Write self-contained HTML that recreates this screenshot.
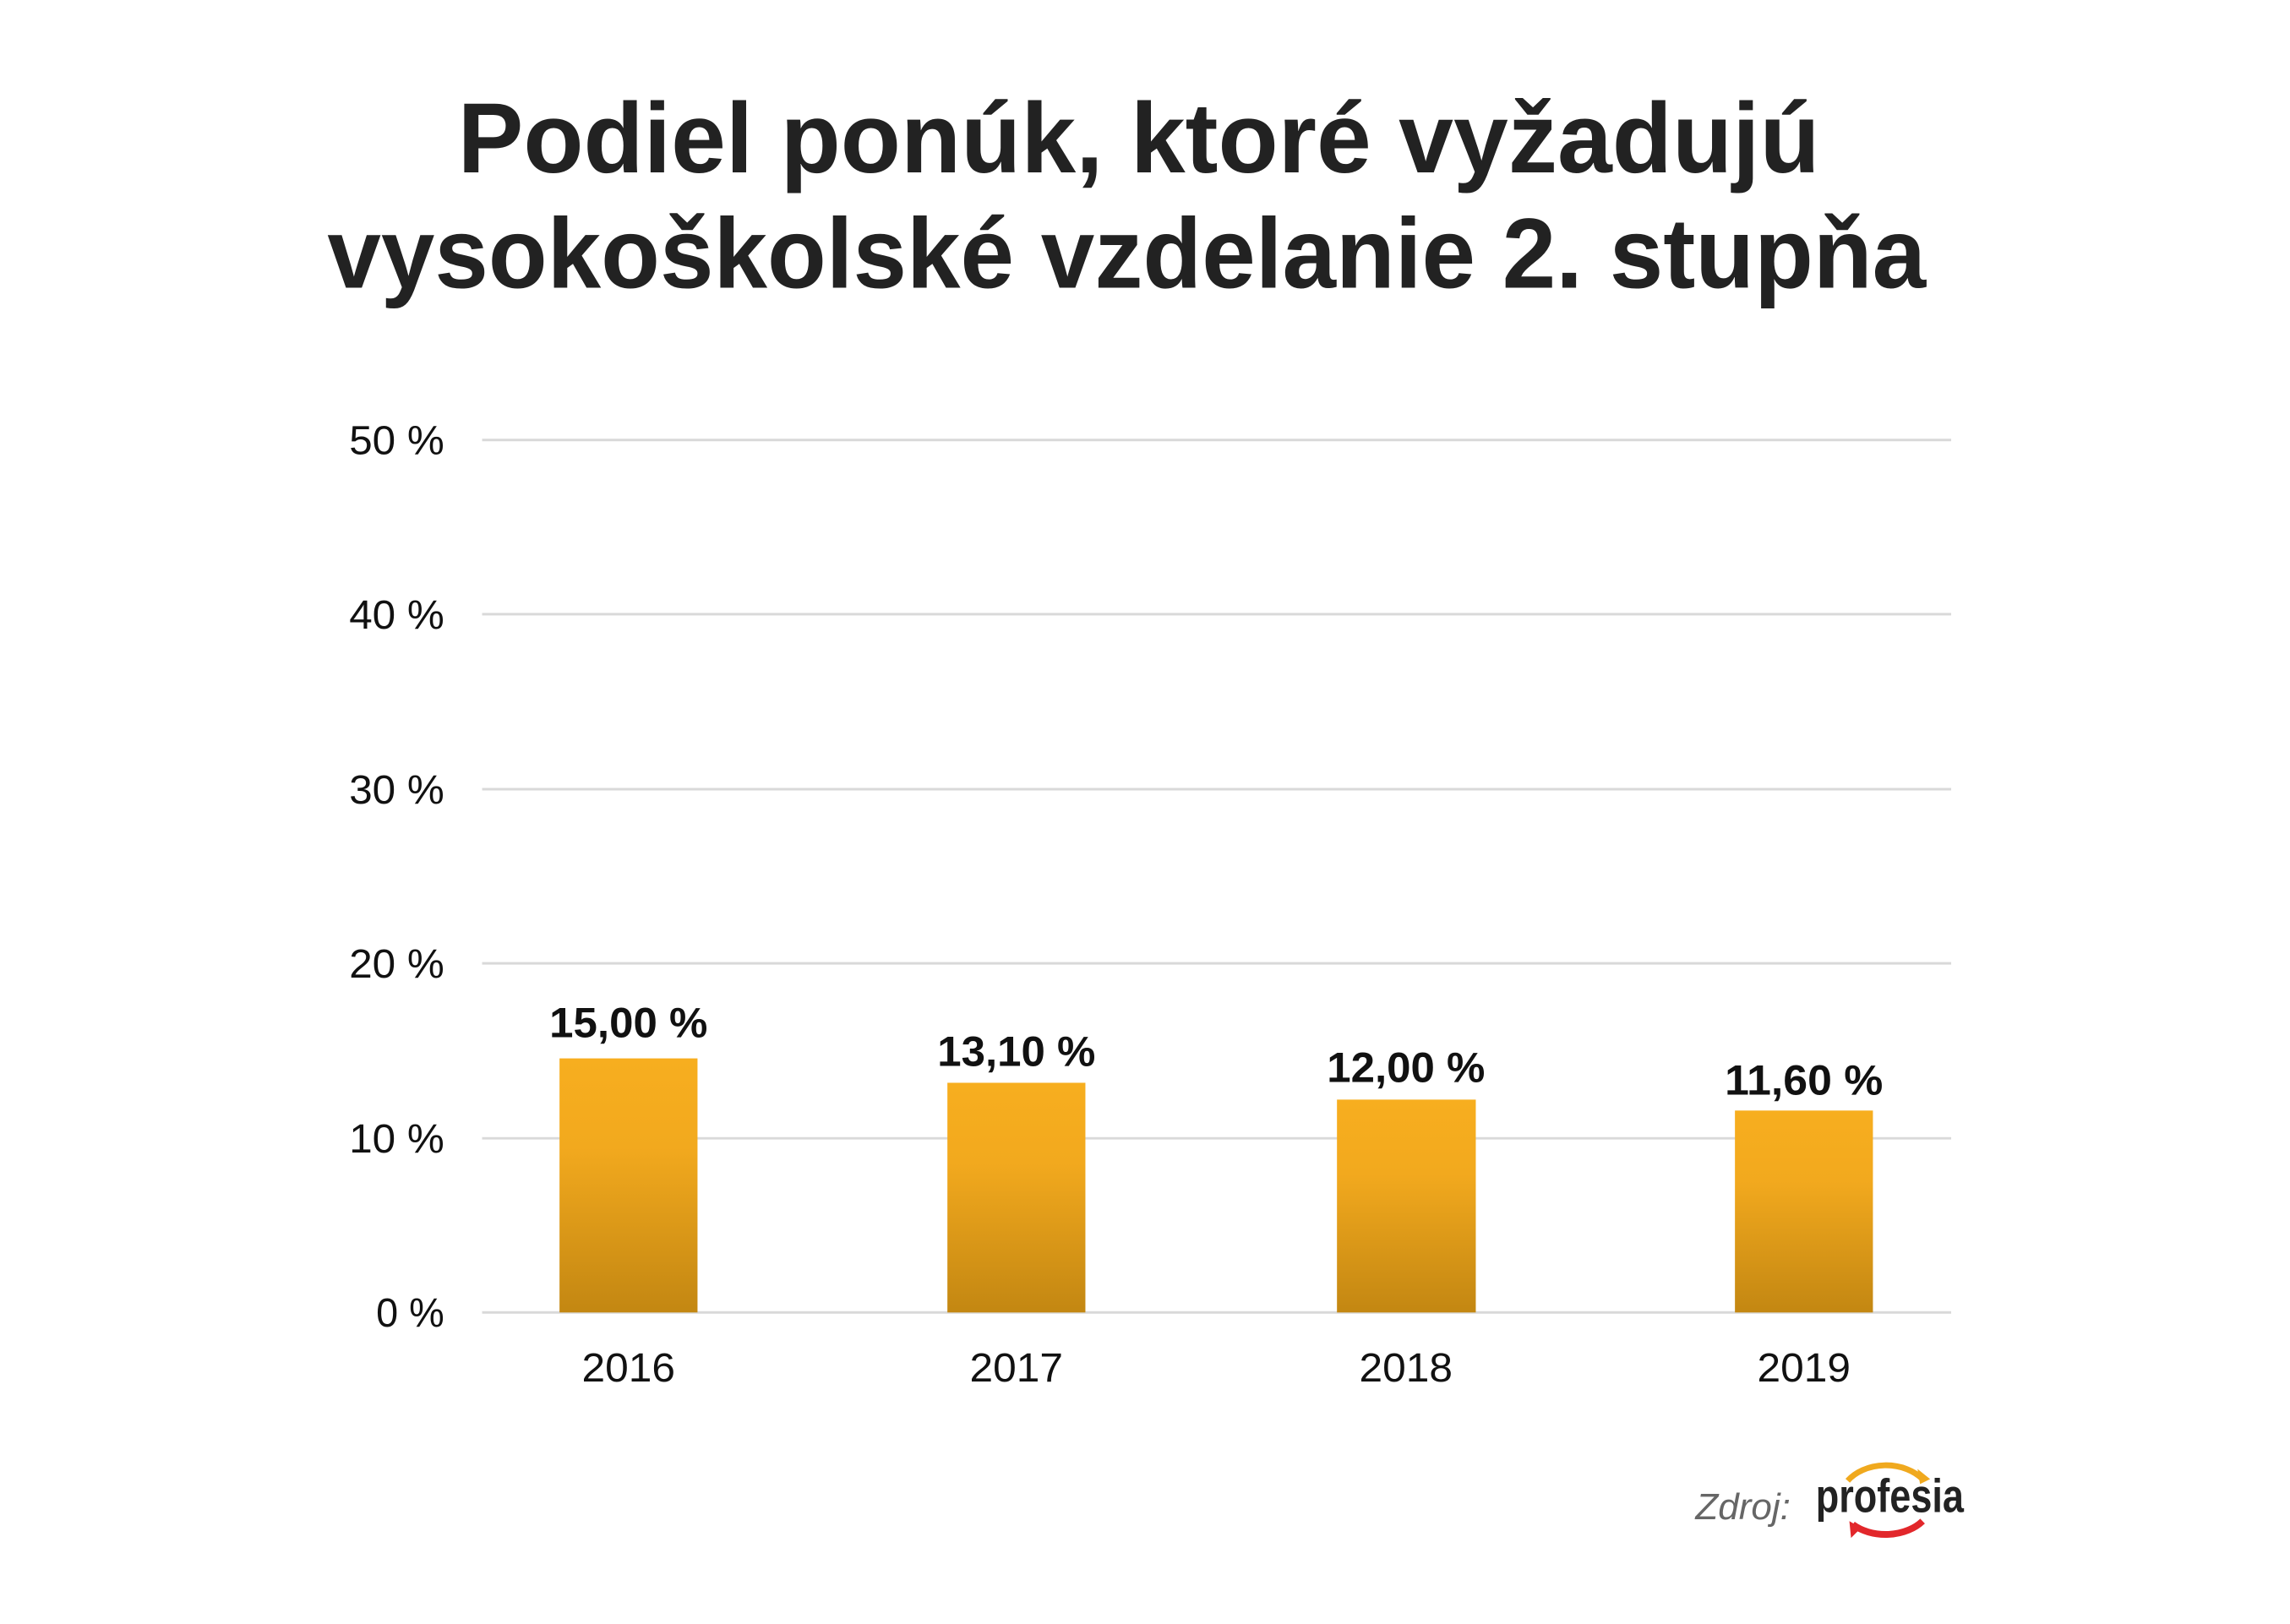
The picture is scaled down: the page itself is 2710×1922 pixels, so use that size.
<!DOCTYPE html>
<html><head><meta charset="utf-8"><style>
html,body{margin:0;padding:0;background:#fff;}
svg{display:block;}
</style></head><body>
<svg width="2710" height="1922" viewBox="0 0 2710 1922" xmlns="http://www.w3.org/2000/svg">
<defs>
<linearGradient id="g" x1="0" y1="0" x2="0" y2="1">
<stop offset="0" stop-color="#F7AE1F"/>
<stop offset="0.35" stop-color="#F2A91E"/>
<stop offset="1" stop-color="#C38712"/>
</linearGradient>
</defs>
<rect width="2710" height="1922" fill="#fff"/>
<g transform="scale(0.9957)">
<g font-family="Liberation Sans, sans-serif" font-weight="bold" fill="#222" font-size="118">
<text x="544" y="205" textLength="1619" lengthAdjust="spacingAndGlyphs">Podiel ponúk, ktoré vyžadujú</text>
<text x="389" y="342" textLength="1900" lengthAdjust="spacingAndGlyphs">vysokoškolské vzdelanie 2. stupňa</text>
</g>
<g stroke="#d9d9d9" stroke-width="3">
<line x1="573" y1="523" x2="2319" y2="523"/>
<line x1="573" y1="730" x2="2319" y2="730"/>
<line x1="573" y1="938" x2="2319" y2="938"/>
<line x1="573" y1="1145" x2="2319" y2="1145"/>
<line x1="573" y1="1353" x2="2319" y2="1353"/>
<line x1="573" y1="1560" x2="2319" y2="1560"/>
</g>
<g font-family="Liberation Sans, sans-serif" fill="#111" font-size="48" text-anchor="end">
<text x="528" y="540" textLength="113" lengthAdjust="spacingAndGlyphs">50 %</text>
<text x="528" y="747" textLength="113" lengthAdjust="spacingAndGlyphs">40 %</text>
<text x="528" y="955" textLength="113" lengthAdjust="spacingAndGlyphs">30 %</text>
<text x="528" y="1162" textLength="113" lengthAdjust="spacingAndGlyphs">20 %</text>
<text x="528" y="1370" textLength="113" lengthAdjust="spacingAndGlyphs">10 %</text>
<text x="528" y="1577" textLength="81" lengthAdjust="spacingAndGlyphs">0 %</text>
</g>
<g fill="url(#g)">
<rect x="665" y="1258" width="164" height="302"/>
<rect x="1126" y="1287" width="164" height="273"/>
<rect x="1589" y="1307" width="165" height="253"/>
<rect x="2062" y="1320" width="164" height="240"/>
</g>
<g font-family="Liberation Sans, sans-serif" font-weight="bold" fill="#111" font-size="50" text-anchor="middle">
<text x="747" y="1233" textLength="188" lengthAdjust="spacingAndGlyphs">15,00 %</text>
<text x="1208" y="1267" textLength="188" lengthAdjust="spacingAndGlyphs">13,10 %</text>
<text x="1671" y="1286" textLength="188" lengthAdjust="spacingAndGlyphs">12,00 %</text>
<text x="2144" y="1301" textLength="188" lengthAdjust="spacingAndGlyphs">11,60 %</text>
</g>
<g font-family="Liberation Sans, sans-serif" fill="#111" font-size="48" text-anchor="middle">
<text x="747" y="1642" textLength="111" lengthAdjust="spacingAndGlyphs">2016</text>
<text x="1208" y="1642" textLength="111" lengthAdjust="spacingAndGlyphs">2017</text>
<text x="1671" y="1642" textLength="111" lengthAdjust="spacingAndGlyphs">2018</text>
<text x="2144" y="1642" textLength="111" lengthAdjust="spacingAndGlyphs">2019</text>
</g>
<text x="2015" y="1806" font-family="Liberation Sans, sans-serif" font-style="italic" font-size="44" fill="#666" textLength="113" lengthAdjust="spacingAndGlyphs">Zdroj:</text>
<g transform="translate(2,8)">
<path d="M2194 1752 A55 42 0 0 1 2283 1750" fill="none" stroke="#F0A91E" stroke-width="7"/>
<polygon points="2277,1738 2292,1750 2280,1756" fill="#F0A91E"/>
<path d="M2200 1804 A55 40 0 0 0 2283 1800" fill="none" stroke="#E2272B" stroke-width="8"/>
<polygon points="2196,1800 2210,1808 2198,1820" fill="#E2272B"/>
<text x="2156" y="1789" font-family="Liberation Sans, sans-serif" font-weight="bold" font-size="56" fill="#222" textLength="176" lengthAdjust="spacingAndGlyphs">profesia</text>
</g>
</g>
</svg>
</body></html>
